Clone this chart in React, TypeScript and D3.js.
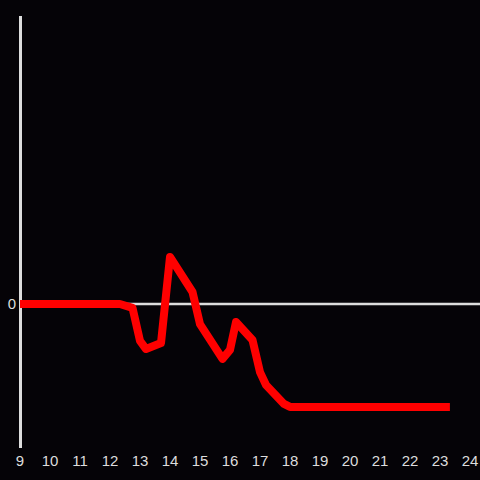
import React from "react";
import * as d3 from "d3";

const hours = [9, 12.33, 12.75, 13.0, 13.2, 13.7, 14.0, 14.75, 15.0, 15.75, 16.0, 16.2, 16.75, 17.0, 17.2, 17.8, 18.0, 23.33];
const values = [0, 0, -1.3, -12.3, -15, -13, 15.7, 4, -6.7, -18.3, -15.3, -6, -12, -22.7, -27, -33.3, -34.3, -34.3];
const xTicks = [9, 10, 11, 12, 13, 14, 15, 16, 17, 18, 19, 20, 21, 22, 23, 24];
const yTicks = [0];

export default function App() {
  const W = 480, H = 480;
  const x = d3.scaleLinear().domain([9, 24]).range([20, 470]);
  const y = d3.scaleLinear().domain([-48, 96]).range([448, 16]);
  const data = hours.map((h, i) => [h, values[i]] as [number, number]);
  const line = d3.line<[number, number]>().x(d => x(d[0])).y(d => y(d[1]));
  const font = "'Liberation Sans', Arial, sans-serif";
  return (
    <svg width={W} height={H} style={{ position: "absolute", left: 0, top: 0, background: "#050307" }}>
      <rect x={0} y={0} width={W} height={H} fill="#050307" />
      <line x1={20} x2={480} y1={y(0)} y2={y(0)} stroke="#dddddd" strokeWidth={2.5} />
      <line x1={20.5} x2={20.5} y1={16} y2={448} stroke="#dddddd" strokeWidth={3} />
      <path d={line(data) || ""} fill="none" stroke="#ff0000" strokeWidth={8} strokeLinejoin="round" strokeLinecap="butt" />
      {xTicks.map(t => (
        <text key={t} x={x(t)} y={466} textAnchor="middle" fill="#dddddd" fontSize={15} fontFamily={font}>{t}</text>
      ))}
      {yTicks.map(t => (
        <text key={t} x={16} y={y(t) + 5} textAnchor="end" fill="#dddddd" fontSize={15} fontFamily={font}>{t}</text>
      ))}
    </svg>
  );
}
